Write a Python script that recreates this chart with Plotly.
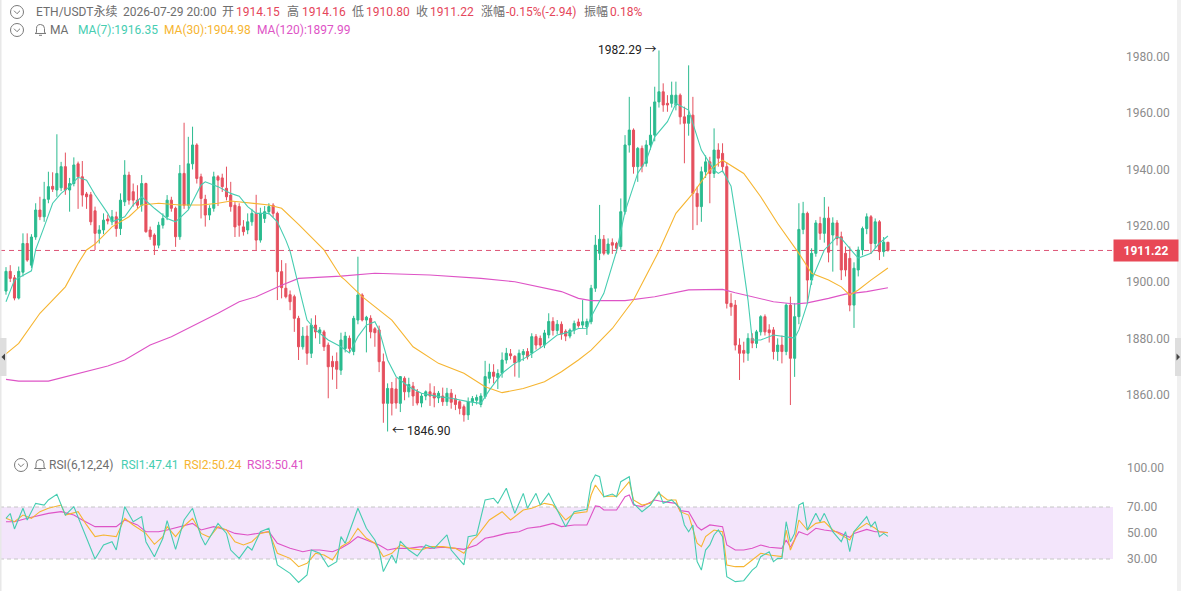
import plotly.graph_objects as go

# ---------------- data ----------------
opens = [1896.8,1903.8,1901.5,1894.3,1903.5,1913.7,1906.0,1916.0,1925.6,1923.2,
         1929.4,1934.0,1932.7,1933.5,1941.0,1932.7,1935.0,1942.0,1937.4,1931.3,
         1931.0,1925.3,1917.3,1918.5,1922.4,1921.4,1923.2,1919.0,1928.5,1938.0,
         1932.1,1929.1,1927.3,1935.0,1918.5,1916.7,1913.1,1920.2,1923.2,1929.1,
         1926.2,1916.1,1938.6,1927.3,1942.0,1948.7,1937.4,1929.4,1923.8,1926.2,
         1937.4,1937.0,1933.3,1930.9,1927.3,1926.8,1919.6,1918.5,1921.4,1924.4,
         1914.9,1922.6,1925.0,1927.3,1924.4,1903.7,1897.8,1895.5,1894.8,1887.1,
         1877.0,1880.8,1874.7,1884.7,1881.9,1882.3,1877.6,1871.8,1871.8,1868.7,
         1876.4,1880.0,1875.3,1886.5,1895.4,1886.5,1887.1,1883.4,1883.0,1871.7,
         1856.9,1862.2,1862.0,1856.9,1865.8,1861.0,1863.0,1861.0,1857.0,1859.5,
         1861.0,1860.5,1858.8,1859.5,1857.5,1860.5,1858.5,1857.5,1855.7,1852.8,
         1857.5,1858.0,1856.5,1859.3,1865.8,1868.0,1866.0,1867.6,1872.3,1874.5,
         1873.6,1871.7,1874.2,1875.3,1874.7,1880.6,1880.0,1877.6,1881.2,1886.0,
         1882.8,1885.0,1882.5,1880.8,1882.9,1885.8,1884.7,1884.0,1885.9,1897.8,
         1910.2,1915.2,1910.2,1914.0,1913.7,1912.6,1925.0,1948.7,1954.0,1941.0,
         1947.5,1942.2,1948.7,1952.2,1964.0,1967.6,1963.5,1963.5,1962.9,1966.4,
         1958.7,1956.4,1959.3,1931.5,1926.8,1939.2,1942.7,1938.6,1946.9,1945.7,
         1941.0,1892.4,1891.8,1877.6,1875.7,1874.7,1880.0,1878.2,1882.3,1887.7,
         1883.0,1883.0,1875.3,1877.6,1875.3,1891.8,1872.9,1887.7,1918.7,1924.4,
         1900.7,1910.2,1920.8,1917.3,1922.7,1916.7,1921.0,1916.1,1910.2,1908.4,
         1891.8,1904.3,1911.4,1919.0,1923.2,1913.7,1921.4,1910.8,1914.15]
highs = [1905.3,1906.0,1902.5,1905.5,1917.3,1917.3,1917.0,1928.0,1930.3,1935.6,
         1939.2,1939.0,1952.5,1942.7,1946.0,1937.0,1944.3,1942.8,1943.0,1932.0,
         1932.0,1926.8,1920.2,1924.4,1924.0,1925.6,1925.0,1931.5,1943.3,1939.2,
         1935.0,1934.4,1938.0,1935.3,1919.7,1917.3,1921.4,1924.4,1930.9,1930.3,
         1926.8,1941.6,1956.6,1951.6,1955.2,1949.3,1938.5,1931.0,1927.3,1939.2,
         1938.0,1938.5,1941.0,1935.6,1928.5,1928.0,1922.0,1924.4,1926.0,1931.0,
         1926.4,1927.0,1928.0,1928.0,1925.0,1907.8,1906.7,1897.0,1895.5,1888.0,
         1884.0,1884.5,1887.1,1888.2,1884.0,1883.0,1878.5,1873.8,1875.0,1882.0,
         1882.3,1881.0,1888.0,1909.0,1896.0,1888.0,1888.2,1884.0,1884.5,1874.6,
         1864.0,1864.5,1866.0,1866.6,1866.5,1866.0,1864.5,1862.0,1860.5,1861.5,
         1864.0,1863.0,1861.3,1862.5,1862.4,1862.0,1860.0,1858.0,1856.5,1859.0,
         1859.5,1860.0,1860.5,1872.0,1871.0,1870.8,1869.0,1875.0,1876.6,1876.2,
         1874.0,1876.0,1876.2,1876.5,1881.8,1881.5,1881.0,1883.0,1888.9,1887.5,
         1886.5,1886.0,1883.2,1883.5,1886.3,1887.0,1893.6,1887.0,1899.0,1916.7,
         1927.4,1916.7,1915.5,1915.5,1914.3,1929.7,1952.2,1965.8,1954.6,1948.0,
         1948.5,1950.4,1962.3,1969.4,1982.29,1970.6,1966.4,1971.2,1971.2,1967.0,
         1962.3,1977.0,1965.8,1933.9,1941.0,1945.0,1944.5,1954.6,1949.3,1949.3,
         1942.5,1896.0,1893.6,1880.0,1878.8,1881.8,1881.8,1883.0,1888.2,1888.5,
         1885.0,1884.0,1880.0,1881.0,1892.4,1894.8,1892.5,1928.0,1928.5,1925.0,
         1912.0,1922.0,1923.2,1930.2,1926.8,1923.0,1922.0,1917.9,1912.6,1912.6,
         1907.0,1912.6,1919.7,1924.4,1923.8,1922.6,1922.0,1916.0,1914.16]
lows = [1895.5,1900.0,1893.5,1893.8,1902.0,1907.2,1905.0,1915.0,1922.0,1921.4,
        1928.0,1932.0,1930.3,1932.3,1931.0,1925.0,1934.0,1926.0,1926.8,1926.0,
        1920.2,1911.4,1913.7,1917.0,1920.5,1920.2,1916.1,1916.7,1927.0,1927.5,
        1926.8,1926.0,1925.0,1917.5,1915.0,1909.6,1912.0,1919.0,1922.0,1925.0,
        1912.5,1915.0,1926.0,1926.0,1940.0,1935.0,1922.6,1919.7,1922.0,1925.0,
        1927.0,1932.0,1929.0,1925.0,1916.0,1916.1,1916.5,1917.0,1920.0,1911.4,
        1914.0,1921.0,1924.0,1923.0,1893.6,1894.2,1894.2,1890.0,1882.3,1872.3,
        1876.0,1870.6,1873.0,1880.0,1878.0,1875.5,1858.7,1865.3,1862.0,1867.0,
        1875.0,1875.0,1874.0,1885.0,1886.0,1875.0,1880.0,1877.0,1868.0,1850.0,
        1846.9,1852.6,1855.0,1853.8,1858.0,1859.0,1856.0,1856.2,1855.5,1858.0,
        1856.0,1855.5,1857.0,1856.0,1856.0,1855.0,1854.5,1853.0,1850.4,1851.0,
        1856.0,1856.5,1855.5,1858.5,1864.0,1864.0,1862.0,1866.0,1871.0,1872.5,
        1866.4,1866.0,1872.0,1872.5,1873.0,1876.0,1876.5,1876.5,1880.0,1881.0,
        1881.5,1879.5,1879.0,1880.0,1881.5,1883.8,1883.5,1881.2,1885.0,1896.5,
        1907.8,1909.5,1909.6,1910.0,1910.2,1911.5,1924.0,1946.0,1938.5,1935.6,
        1939.0,1941.0,1947.0,1950.0,1962.0,1960.5,1960.5,1962.0,1961.0,1956.0,
        1942.2,1952.0,1918.5,1920.2,1921.4,1937.0,1928.0,1937.0,1941.0,1939.0,
        1890.6,1888.0,1875.7,1865.2,1871.4,1872.0,1876.5,1876.5,1881.0,1881.0,
        1878.5,1872.5,1872.0,1871.1,1874.0,1856.3,1866.3,1885.0,1917.0,1892.5,
        1899.0,1909.0,1915.0,1914.0,1907.0,1903.7,1913.0,1900.7,1902.0,1889.6,
        1883.7,1902.0,1909.5,1917.0,1910.0,1912.0,1907.8,1909.0,1910.80]
closes = [1903.8,1901.3,1894.3,1903.8,1913.7,1907.8,1916.0,1925.6,1923.2,1929.4,
          1933.9,1933.0,1938.6,1941.0,1932.7,1935.0,1941.6,1937.4,1930.9,1930.3,
          1921.4,1917.3,1918.5,1922.0,1921.7,1923.2,1919.0,1929.1,1938.0,1929.1,
          1929.1,1927.3,1935.0,1917.9,1916.1,1913.1,1920.2,1922.6,1929.1,1926.2,
          1916.1,1938.6,1927.3,1942.0,1948.7,1936.8,1929.7,1923.8,1926.2,1937.4,
          1936.2,1933.9,1930.3,1926.8,1919.6,1920.2,1917.9,1921.4,1924.4,1914.9,
          1924.4,1925.0,1926.8,1924.4,1903.7,1898.0,1894.8,1893.0,1887.1,1877.0,
          1880.8,1874.7,1884.7,1882.3,1883.0,1877.0,1869.9,1869.9,1869.0,1879.4,
          1880.8,1876.4,1887.1,1895.4,1886.5,1887.5,1882.3,1882.0,1871.7,1856.9,
          1862.2,1856.9,1857.0,1866.4,1861.0,1863.6,1859.5,1857.0,1859.5,1861.0,
          1859.5,1858.8,1860.5,1857.5,1860.5,1857.3,1856.5,1855.1,1852.8,1857.5,
          1858.6,1859.0,1859.5,1866.4,1868.0,1866.5,1867.5,1872.3,1874.7,1873.8,
          1871.3,1874.7,1875.3,1873.5,1880.6,1877.6,1877.6,1881.9,1886.0,1882.8,
          1885.0,1881.5,1880.8,1882.9,1885.3,1884.5,1885.9,1886.0,1897.8,1913.1,
          1915.2,1910.2,1913.5,1913.1,1912.0,1925.0,1948.7,1954.0,1941.0,1947.5,
          1941.0,1948.7,1952.2,1964.0,1967.6,1962.9,1962.9,1966.4,1966.4,1958.7,
          1956.4,1959.3,1931.5,1926.8,1939.2,1942.7,1938.6,1946.9,1944.0,1941.0,
          1892.4,1891.2,1877.6,1874.7,1874.7,1880.0,1878.3,1882.3,1887.7,1882.3,
          1882.0,1875.3,1877.6,1875.3,1891.8,1872.9,1887.7,1918.7,1924.4,1900.7,
          1910.2,1921.0,1917.3,1922.7,1910.6,1921.0,1915.5,1904.3,1904.3,1891.8,
          1904.9,1911.4,1919.0,1923.2,1913.7,1921.4,1910.8,1914.16,1911.22]
bars = list(range(len(closes)))

ma7_idx = [0,2,6,7,9,11,13,15,17,19,21,24,25,28,30,32,35,38,40,43,46,47,50,53,55,57,59,62,64,66,
           67,69,70,71,73,76,79,81,83,85,87,88,90,92,95,98,102,105,109,112,114,117,120,123,127,130,
           133,135,137,138,141,144,146,149,151,153,156,158,161,162,164,167,168,169,171,173,175,176,
           178,181,184,186,187,189,190,192,193,196,197,200,201,204,206,208]
ma7_val = [1893,1900.7,1904,1911.5,1919.6,1928,1931.5,1933.9,1937.2,1936.2,1931,1924.4,1921.4,1923.2,
           1927.4,1930.3,1926.2,1922.6,1921.4,1925.6,1934.5,1935.6,1933.9,1931.5,1930.5,1926.8,1924.4,
           1924.4,1921.4,1914.9,1911,1898,1892.5,1886.5,1883,1879.4,1877,1874.8,1880.6,1884.7,1885.9,
           1883,1872.3,1866.4,1862.8,1860.5,1859.3,1858.7,1857.5,1856.9,1861.6,1867.6,1871.1,1873.5,
           1877.6,1881.2,1882.3,1883.5,1883.6,1887.7,1896,1911,1925,1938.7,1943.3,1951.6,1957,1963.4,
           1961.1,1956.4,1946.9,1939.8,1938.6,1939.5,1934.1,1914.9,1893.6,1879.4,1879.4,1881.2,1880.6,
           1880.1,1883,1892.4,1900.7,1907.8,1911.4,1916.1,1915.5,1910.2,1908.5,1910.2,1913.8,1916.35]
ma30_idx = [0,3,8,14,17,19,21,25,29,32,36,41,46,50,53,57,62,65,69,75,79,80,84,91,96,102,108,113,
            117,122,127,131,135,138,143,148,154,158,162,166,169,174,178,182,187,190,194,197,199,201,
            204,208]
ma30_val = [1874.5,1878.2,1888.9,1898.3,1906.6,1911.4,1913.5,1919.6,1923.2,1927.4,1928,1927.4,1927.4,
            1928,1928.8,1928.2,1927.4,1926.2,1920.5,1911.4,1901.9,1900.7,1894.8,1886.5,1877,1871.1,
            1867.6,1862.8,1860.7,1862.2,1864.6,1868.1,1872.3,1875.8,1883.5,1893.6,1911,1924.4,1931.5,
            1939.8,1943.3,1938.6,1930.3,1920.8,1910.2,1903.1,1900.7,1898.3,1895.4,1897.2,1900.7,1904.98]
ma120_idx = [0,3,10,17,24,28,34,39,46,50,55,59,65,69,79,87,100,112,120,126,131,135,138,146,153,
             161,169,172,176,181,186,189,194,198,203,208]
ma120_val = [1865.4,1864.8,1864.8,1867.6,1870.2,1872.3,1877.6,1880.6,1885.9,1888.9,1893,1894.8,
             1898.9,1901.3,1902.1,1903.1,1902.5,1901.3,1900.1,1898.3,1896.6,1894.2,1893.4,1893.4,
             1894.8,1897.2,1897.4,1896.2,1894.8,1893,1892.2,1892.6,1894.2,1895.7,1896.6,1897.99]

rsi1_idx = [0,1,2,4,5,7,9,10,12,14,16,18,21,23,25,26,28,30,32,33,35,37,38,40,42,44,46,47,50,52,
            53,55,57,58,60,62,64,67,69,71,72,74,76,78,79,80,83,85,87,88,89,91,92,93,95,97,99,101,
            104,105,108,109,111,113,115,116,118,120,122,123,125,126,128,130,132,134,137,138,139,140,
            141,143,144,145,147,148,150,152,154,155,157,159,160,161,162,163,164,165,166,167,168,169,
            170,172,174,176,177,178,180,181,182,183,184,185,186,187,188,189,191,192,193,195,197,198,
            199,200,203,204,205,206,207,208]
rsi1_val = [61.3,65,53.1,69,60,72.8,71.5,75.4,79.7,63.8,70.3,53.6,30,40.8,43.3,37,70.3,58.7,62.6,
            43.3,31.8,45.9,59.5,37.4,60,69,47.2,40.8,57.4,49.7,36.9,30.5,39.5,36.9,51,53.6,25.4,19,
            12,17.7,36.9,34.4,24.1,28,47.2,42.1,69,53.6,44.6,36.9,20.3,33.1,26.7,43.8,36.9,32.3,40.8,
            38.2,48.5,36.9,25.4,47.2,48.5,75.4,76.7,72.8,84.4,65.1,80.5,69,80.5,71.5,80.5,67.7,54.9,
            66.4,68.2,88.2,94.6,93.3,77.9,80,77.9,89.5,93.3,72.8,66.4,71.5,81.8,72.8,75.4,69,56.2,51,
            56.2,28,21.5,36.9,40.8,48.5,52.3,47.2,16.4,12.6,13.3,21.5,24.1,31.8,35.6,28,30.5,30.5,
            58.7,43.3,49.7,71.5,73.3,52.3,65.1,58.7,65.1,51,43.3,51,35.6,51,62.6,54.9,58.7,47.2,49.7,
            47.41]
rsi2_idx = [0,2,4,6,8,10,13,14,17,19,21,23,26,28,30,33,35,37,38,40,42,44,46,48,50,52,54,56,58,60,
            62,64,67,69,71,73,75,77,79,81,83,85,87,89,91,93,95,98,100,103,106,108,110,111,114,117,
            119,122,124,127,129,132,134,137,138,139,141,143,144,147,148,150,152,154,156,158,159,161,
            163,164,165,167,169,170,172,174,176,178,180,183,184,185,186,187,189,191,193,195,197,199,
            200,203,205,206,208]
rsi2_val = [61.3,58.7,63.8,61.3,66.4,69,71.5,63.8,66.4,56.2,47.2,48.5,47.2,61.3,56.2,49.7,41.3,47.2,
            54.9,47.2,55.4,61.3,49.7,46.7,54.9,52.3,43.3,40.8,43.3,49.7,51,34.4,30.5,24.1,26.7,34.4,
            33.1,29.2,39.5,43.3,53.6,45.9,42.1,31.8,34.4,40.8,38.2,36.9,39.5,39.5,38.2,34.4,44.6,47.2,
            60,66.4,60,67.7,69,72.8,71.5,60,65.1,66.4,79.2,86.9,77.9,78.5,77.9,89.5,75.4,71.5,72.8,
            80.5,75.4,75.4,66.4,63.8,42.1,39.5,47.2,52.3,51,25.4,24.1,24.1,29.2,34.4,33.1,31.8,52.3,
            36.9,44.6,60,52.3,57.4,58.7,52.3,48.5,44.6,51,57.4,53.6,51,50.24]
rsi3_idx = [0,2,5,8,10,13,16,18,21,24,26,28,31,33,36,38,41,44,46,49,52,54,57,60,62,64,67,70,72,74,
            77,79,81,83,85,88,90,92,95,98,100,103,106,108,111,113,115,118,121,123,126,129,131,134,
            137,139,140,141,144,146,147,148,150,153,155,158,159,161,163,164,166,169,170,172,174,176,
            178,180,183,184,185,187,189,191,193,196,199,200,203,205,206,208]
rsi3_val = [58.7,58.7,61.3,63.8,65.1,66.4,63.8,60,54.9,54.9,54.9,60,56.2,51,51,52.3,54.9,57.4,52.3,
            54.9,52.3,49.7,48.5,49.7,51,42.1,38.2,35.6,36.9,36.9,35.6,38.2,42.1,47.2,44.6,40.8,36.9,
            38.2,38.2,39.5,38.2,39,38.2,37.4,40.8,45.9,47.2,49.7,51,53.6,54.9,57.4,54.9,56.2,56.2,
            70.8,70.3,67.7,67.7,77.9,79.2,71.5,70.3,75.4,74.1,72.8,67.2,66.4,54.9,52.3,56.2,54.9,40.8,
            36.9,36.9,38.2,40.8,39,38.2,44.6,39,51,48.5,53.6,52.3,51,46.7,49.7,52.8,51,51,50.41]

price_ticks = [1860, 1880, 1900, 1920, 1940, 1960, 1980]
rsi_ticks = [30, 50, 70, 100]
rsi_band = [30, 70]
symbol = "ETH/USDT永续"
bar_time = "2026-07-29 20:00"

# ---------------- styling ----------------
W, H = 1181, 591
PW = 1113  # plotting width in px (right margin holds the price scale)
GREEN = "#2BBB8F"
RED = "#E5505E"
C_MA7 = "#46CDB1"
C_MA30 = "#F6B531"
C_MA120 = "#DE54C6"
GREY = "#6E6E6E"
TXT_RED = "#E5465A"
FONT = "Roboto, 'Noto Sans CJK SC', sans-serif"


def px(x):
    return x / PW


def py(y):
    return 1 - y / H


def path(points, close=False):
    s = "M " + " L ".join(f"{px(a):.5f},{py(b):.5f}" for a, b in points)
    return s + (" Z" if close else "")


fig = go.Figure()
fig.add_trace(go.Candlestick(
    x=bars, open=opens, high=highs, low=lows, close=closes,
    increasing=dict(line=dict(color=GREEN, width=1), fillcolor=GREEN),
    decreasing=dict(line=dict(color=RED, width=1), fillcolor=RED),
    whiskerwidth=0, showlegend=False, hoverinfo="skip", xaxis="x", yaxis="y"))

for xs, ys, c in [(ma120_idx, ma120_val, C_MA120), (ma30_idx, ma30_val, C_MA30), (ma7_idx, ma7_val, C_MA7)]:
    fig.add_trace(go.Scatter(x=xs, y=ys, mode="lines", line=dict(color=c, width=1.1),
                             showlegend=False, hoverinfo="skip", xaxis="x", yaxis="y"))

for xs, ys, c in [(rsi3_idx, rsi3_val, C_MA120), (rsi2_idx, rsi2_val, C_MA30), (rsi1_idx, rsi1_val, C_MA7)]:
    fig.add_trace(go.Scatter(x=xs, y=ys, mode="lines", line=dict(color=c, width=1.1),
                             showlegend=False, hoverinfo="skip", xaxis="x2", yaxis="y2"))

xr = [-6 / 4.24, (PW - 6) / 4.24]
axis_font = dict(family=FONT, size=12, color="#8C8C8C")
fig.update_layout(
    width=W, height=H, margin=dict(l=0, r=W - PW, t=0, b=0),
    paper_bgcolor="white", plot_bgcolor="white", showlegend=False,
    xaxis=dict(domain=[0, 1], range=xr, visible=False, anchor="y", rangeslider=dict(visible=False)),
    xaxis2=dict(domain=[0, 1], range=xr, visible=False, anchor="y2", matches="x"),
    yaxis=dict(domain=[py(445), py(40)], range=[1842.1, 1986.0], side="right", anchor="x",
               tickvals=price_ticks, tickformat=".2f", showgrid=False, zeroline=False,
               showline=False, ticks="", ticklabelstandoff=12, tickfont=axis_font),
    yaxis2=dict(domain=[py(588), py(455)], range=[7.69, 110], side="right", anchor="x2",
                tickvals=rsi_ticks, tickformat=".2f", showgrid=False, zeroline=False,
                showline=False, ticks="", ticklabelstandoff=13, tickfont=axis_font),
)

shapes = []
# RSI band
shapes.append(dict(type="rect", xref="paper", yref="y2", x0=0, x1=1, y0=rsi_band[0], y1=rsi_band[1],
                   fillcolor="#F3E5FB", line=dict(width=0), layer="below"))
for v in rsi_band:
    shapes.append(dict(type="line", xref="paper", yref="y2", x0=0, x1=1, y0=v, y1=v,
                       line=dict(color="#C6C6C6", width=1, dash="4px,3px"), layer="below"))
# last price dashed line
shapes.append(dict(type="line", xref="paper", yref="y", x0=0, x1=1, y0=closes[-1], y1=closes[-1],
                   line=dict(color="#DD5577", width=1, dash="5px,4px"), layer="below"))
# side strips / handles
shapes.append(dict(type="rect", xref="paper", yref="paper", x0=px(0), x1=px(1.5), y0=0, y1=1,
                   fillcolor="#E8E8E8", line=dict(width=0)))
shapes.append(dict(type="rect", xref="paper", yref="paper", x0=px(1177), x1=px(1181), y0=0, y1=1,
                   fillcolor="#F0F0F0", line=dict(width=0)))
shapes.append(dict(type="rect", xref="paper", yref="paper", x0=px(0), x1=px(6.5), y0=py(376), y1=py(338),
                   fillcolor="#DEDEDE", line=dict(width=0)))
shapes.append(dict(type="path", xref="paper", yref="paper", path=path([(5, 353.5), (1.5, 357), (5, 360.5)], True),
                   fillcolor="#444444", line=dict(width=0)))
shapes.append(dict(type="rect", xref="paper", yref="paper", x0=px(1175), x1=px(1181), y0=py(376), y1=py(338),
                   fillcolor="#DEDEDE", line=dict(width=0)))
shapes.append(dict(type="path", xref="paper", yref="paper", path=path([(1176.5, 353.5), (1180, 357), (1176.5, 360.5)], True),
                   fillcolor="#444444", line=dict(width=0)))


def circle_icon(cx, cy, r=6.5):
    shapes.append(dict(type="circle", xref="paper", yref="paper", x0=px(cx - r), x1=px(cx + r),
                       y0=py(cy + r), y1=py(cy - r), line=dict(color="#7A7A7A", width=1)))
    shapes.append(dict(type="path", xref="paper", yref="paper",
                       path=path([(cx - 3, cy - 1.3), (cx, cy + 1.7), (cx + 3, cy - 1.3)]),
                       line=dict(color="#7A7A7A", width=1)))


def bell_icon(cx, cy):
    p = (f"M {px(cx-4):.5f},{py(cy+3):.5f} L {px(cx-4):.5f},{py(cy-1):.5f} "
         f"Q {px(cx-4):.5f},{py(cy-5):.5f} {px(cx):.5f},{py(cy-5):.5f} "
         f"Q {px(cx+4):.5f},{py(cy-5):.5f} {px(cx+4):.5f},{py(cy-1):.5f} "
         f"L {px(cx+4):.5f},{py(cy+3):.5f} L {px(cx+5.5):.5f},{py(cy+4):.5f} "
         f"L {px(cx-5.5):.5f},{py(cy+4):.5f} Z")
    shapes.append(dict(type="path", xref="paper", yref="paper", path=p, line=dict(color="#7A7A7A", width=1)))
    shapes.append(dict(type="line", xref="paper", yref="paper", x0=px(cx - 1.5), x1=px(cx + 1.5),
                       y0=py(cy + 5.8), y1=py(cy + 5.8), line=dict(color="#7A7A7A", width=1)))


circle_icon(17, 12)
circle_icon(17, 30)
bell_icon(40.5, 29.5)
circle_icon(21, 465)
bell_icon(40, 464.5)
fig.update_layout(shapes=shapes)

ann = []


def txt(x, y, s, color, size=12):
    ann.append(dict(xref="paper", yref="paper", x=px(x), y=py(y), xanchor="left", yanchor="middle",
                    text=s, showarrow=False, font=dict(family=FONT, size=size, color=color), borderpad=0))


o, h, l, c = opens[-1], highs[-1], lows[-1], closes[-1]
prev = closes[-2]
chg = c - prev
txt(35, 12, symbol, GREY)
txt(122, 12, bar_time, GREY)
txt(221, 12, "开", GREY)
txt(235, 12, f"{o:.2f}", TXT_RED)
txt(285.5, 12, "高", GREY)
txt(300.5, 12, f"{h:.2f}", TXT_RED)
txt(350.5, 12, "低", GREY)
txt(364.5, 12, f"{l:.2f}", TXT_RED)
txt(414.5, 12, "收", GREY)
txt(428.5, 12, f"{c:.2f}", TXT_RED)
txt(479.5, 12, "涨幅", GREY)
txt(504.5, 12, f"{chg / prev * 100:.2f}%({chg:.2f})", TXT_RED)
txt(582.5, 12, "振幅", GREY)
txt(608.5, 12, f"{(h - l) / prev * 100:.2f}%", TXT_RED)

txt(48.5, 30, "MA", GREY)
txt(76.5, 30, f"MA(7):{ma7_val[-1]:.2f}", C_MA7)
txt(162.5, 30, f"MA(30):{ma30_val[-1]:.2f}", C_MA30)
txt(255.5, 30, f"MA(120):{ma120_val[-1]:.2f}", C_MA120)

txt(48, 465, "RSI(6,12,24)", GREY)
txt(119.5, 465, f"RSI1:{rsi1_val[-1]:.2f}", C_MA7)
txt(182.5, 465, f"RSI2:{rsi2_val[-1]:.2f}", C_MA30)
txt(246, 465, f"RSI3:{rsi3_val[-1]:.2f}", C_MA120)

# extreme markers
hi_i = max(bars, key=lambda i: highs[i])
lo_i = min(bars, key=lambda i: lows[i])
ann.append(dict(xref="x", yref="y", x=hi_i, y=highs[hi_i], xanchor="right", yanchor="middle",
                xshift=-1, text=f"{highs[hi_i]:.2f} →", showarrow=False,
                font=dict(family=FONT, size=12, color="#222222"), borderpad=0))
ann.append(dict(xref="x", yref="y", x=lo_i, y=lows[lo_i], xanchor="left", yanchor="middle",
                xshift=3, text=f"← {lows[lo_i]:.2f}", showarrow=False,
                font=dict(family=FONT, size=12, color="#222222"), borderpad=0))
# last price tag
ann.append(dict(xref="paper", yref="y", x=1.0, y=c, xanchor="left", yanchor="middle",
                text=f"<b>{c:.2f}</b>", showarrow=False, bgcolor="#E84856", width=62, height=19,
                align="center", font=dict(family=FONT, size=12, color="white"), borderpad=1))
fig.update_layout(annotations=ann)

fig.write_html("out.html")
